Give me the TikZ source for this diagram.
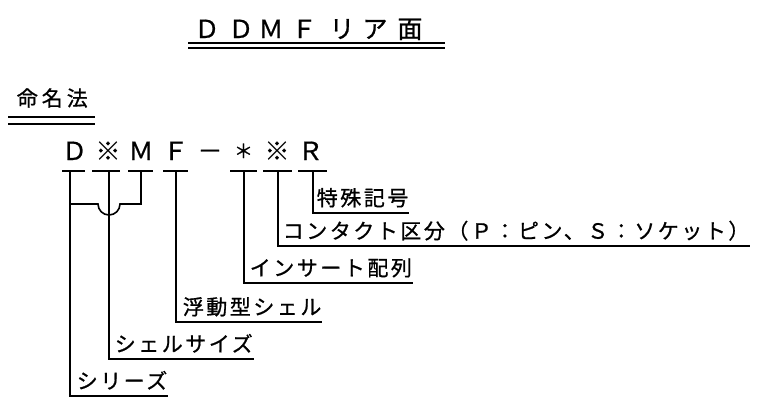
\documentclass[tikz,border=0pt]{standalone}
\usepackage{fontspec}
\setmainfont{Noto Sans CJK JP}[FakeBold=0.8]
\newfontfamily\labfont[LetterSpace=12,FakeBold=0.8]{Noto Sans CJK JP}
\newfontfamily\headfont[LetterSpace=19,FakeBold=0.8]{Noto Sans CJK JP}
\begin{document}
\begin{tikzpicture}[x=1pt,y=-1pt, line width=1.6pt,
  tch/.style={inner sep=0pt, anchor=base, font=\fontsize{25}{25}\selectfont},
  cch/.style={inner sep=0pt, anchor=base, font=\fontsize{25}{25}\selectfont},
  lab/.style={inner sep=0pt, text depth=6.5pt, anchor=south west, font=\labfont\fontsize{21}{21}\selectfont},
  head/.style={inner sep=0pt, anchor=base west, font=\headfont\fontsize{21}{21}\selectfont},
  bar/.style={line width=1.8pt},
  lead/.style={line width=1.6pt}
]
\useasboundingbox (0,0) rectangle (780,405);

% title
\node[tch] (t1) at (207,38) {Ｄ};
\node[tch] (t2) at (241,38) {Ｄ};
\node[tch] (t3) at (271,38) {Ｍ};
\node[tch] (t4) at (304,38) {Ｆ};
\node[tch] (t5) at (342,38) {リ};
\node[tch] (t6) at (375,38) {ア};
\node[tch] (t7) at (410,38) {面};
\coordinate (tuA) at (188,43);
\coordinate (tuB) at (445,43);
\draw (tuA) -- (tuB);
\draw ([yshift=-5pt]tuA) -- ([yshift=-5pt]tuB);

% heading
\node[head] (h) at (16,106) {命名法};
\coordinate (huA) at (8,117);
\coordinate (huB) at (95,117);
\draw (huA) -- (huB);
\draw ([yshift=-7pt]huA) -- ([yshift=-7pt]huB);

% code row
\node[cch] (c1) at (74.5,160) {Ｄ};
\node[cch] (c2) at (108,160) {※};
\node[cch] (c3) at (141,160) {Ｍ};
\node[cch] (c4) at (175.5,160) {Ｆ};
\node[cch] (c5) at (210,160) {－};
\node[cch, font=\fontsize{19}{19}\selectfont] (c6) at (243.5,158) {＊};
\node[cch] (c7) at (277,160) {※};
\node[cch] (c8) at (310.5,160) {Ｒ};

% bars
\draw[bar] (62,171) -- (85,171);
\draw[bar] (92,171) -- (120,171);
\draw[bar] (128,171) -- (153,171);
\draw[bar] (163,171) -- (188,171);
\draw[bar] (230,171) -- (257,171);
\draw[bar] (263,171) -- (292,171);
\draw[bar] (298,171) -- (327,171);

\coordinate (b1) at (70,171);
\coordinate (b2) at (109,171);
\coordinate (b3) at (141,171);
\coordinate (b4) at (176,171);
\coordinate (b5) at (244,171);
\coordinate (b6) at (278,171);
\coordinate (b7) at (313,171);

% labels
\node[lab] (l1) at (316,213) {特殊記号};
\node[lab] (l2) at (282,246) {コンタクト区分（Ｐ：ピン、Ｓ：ソケット）};
\node[lab] (l3) at (249,283) {インサート配列};
\node[lab] (l4) at (182,322) {浮動型シェル};
\node[lab] (l5) at (114,359) {シェルサイズ};
\node[lab] (l6) at (76,396) {シリーズ};

% leaders
\draw[lead] (b7) |- (l1.south east);
\draw[lead] (b6) |- (l2.south east);
\draw[lead] (b5) |- (l3.south east);
\draw[lead] (b4) |- (l4.south east);
\draw[lead] (b2) |- (l5.south east);
\draw[lead] (b1) |- (l6.south east);
\draw[lead] (b3) |- (120,204) arc[start angle=0, end angle=180, radius=11] -- (70,204);
\end{tikzpicture}
\end{document}
